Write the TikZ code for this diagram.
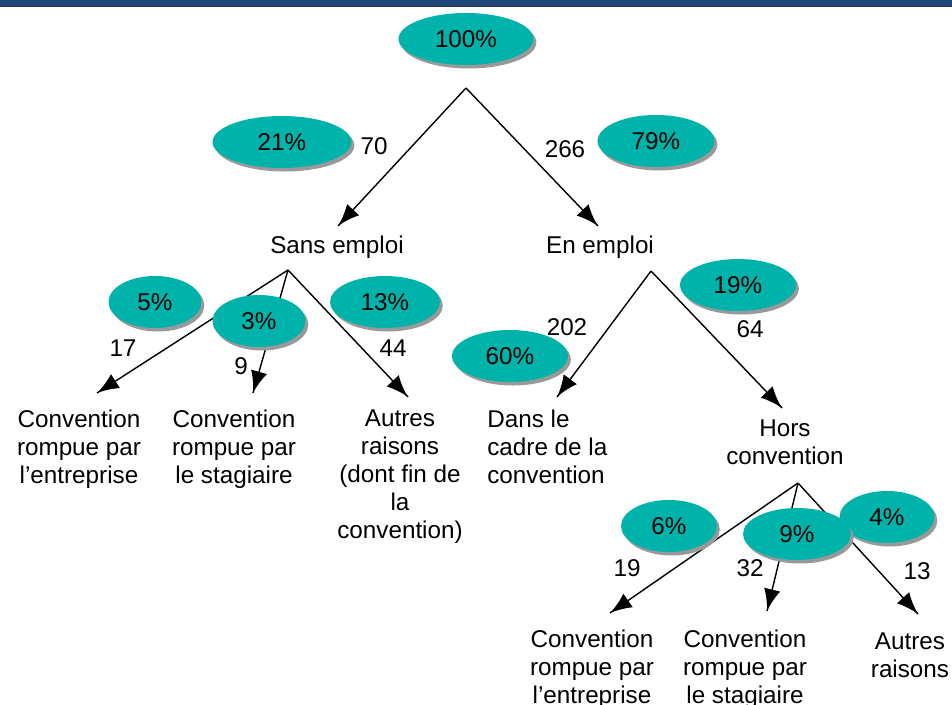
\documentclass[tikz,border=0pt]{standalone}
\usepackage{fontspec}
\setmainfont{Liberation Sans}
\usetikzlibrary{shapes.geometric,shadows,decorations.markings}
\definecolor{turquoise}{RGB}{0,179,170}
\definecolor{bandeau}{RGB}{31,70,120}
\tikzstyle{pct}=[ellipse, fill=turquoise, inner sep=0pt, minimum height=1.04cm,
  drop shadow={shadow xshift=1.6pt, shadow yshift=-2pt, fill=black!40, opacity=1}]
\providecommand{\pct}{\node[pct]}
\tikzstyle{etiq}=[align=center, inner sep=0pt]
\tikzstyle{nb}=[inner sep=0pt]
\providecommand{\nb}{\node[nb]}

\begin{document}
\begin{tikzpicture}[x=0.02cm, y=-0.02cm,
    font=\fontsize{13.8}{15.9}\selectfont,
    every edge/.style={
        draw, line width=0.8pt,
        postaction={decorate,
                    decoration={markings,mark=at position 1 with {\arrow[scale=2.4]{latex}}}
                   }
        }
]
\useasboundingbox (0,0) rectangle (952,705);
\fill[bandeau] (0,0) rectangle (952,6);
\draw[line width=1pt, black!80] (0,6.5) -- (952,6.5);

% points de depart et pointes des fleches
\coordinate (a0) at (466,88);
\coordinate (aSans) at (288,270);
\coordinate (aEn) at (651,271);
\coordinate (aHors) at (798,483);
\coordinate (tSans) at (338,226);
\coordinate (tEn) at (598,226);
\coordinate (tEnt1) at (97,393);
\coordinate (tSta1) at (253,393);
\coordinate (tAut1) at (408,397);
\coordinate (tCadre) at (557,397);
\coordinate (tHors) at (782,408);
\coordinate (tEnt2) at (610,613);
\coordinate (tSta2) at (767,611);
\coordinate (tAut2) at (918,614);

\path
(a0) edge (tSans)
(a0) edge (tEn)
(aSans) edge (tEnt1)
(aSans) edge (tSta1)
(aSans) edge (tAut1)
(aEn) edge (tCadre)
(aEn) edge (tHors)
(aHors) edge (tEnt2)
(aHors) edge (tSta2)
(aHors) edge (tAut2)
;

% pourcentages
\pct (p100) at (466,39) [minimum width=2.7cm] {100\%};
\pct (p21) at (282,142) [minimum width=2.78cm] {21\%};
\pct (p79) at (656,141) [minimum width=2.34cm] {79\%};
\pct (p5) at (155,302) [minimum width=1.86cm] {5\%};
\pct (p3) at (259,321) [minimum width=1.86cm] {3\%};
\pct (p13) at (385,302) [minimum width=2.2cm] {13\%};
\pct (p19) at (738,285) [minimum width=2.32cm] {19\%};
\pct (p60) at (510,356) [minimum width=2.32cm] {60\%};
\pct (p6) at (669,526) [minimum width=1.92cm] {6\%};
\pct (p4) at (887,517) [minimum width=1.9cm] {4\%};
\pct (p9) at (797,534) [minimum width=2.16cm] {9\%};

% effectifs
\nb (n70) at (374,146) {70};
\nb (n266) at (565,149) {266};
\nb (n17) at (123,348) {17};
\nb (n9) at (241,366) {9};
\nb (n44) at (393,348) {44};
\nb (n202) at (567,327) {202};
\nb (n64) at (750,329) {64};
\nb (n19) at (627,568) {19};
\nb (n32) at (750,568) {32};
\nb (n13) at (917,571) {13};

% situations
\node[etiq] (sans) at (337,247) {Sans emploi};
\node[etiq] (en) at (600,247) {En emploi};
\node[etiq] (ent1) at (79,449) {Convention\\rompue par\\l’entreprise};
\node[etiq] (sta1) at (234,449) {Convention\\rompue par\\le stagiaire};
\node[etiq] (aut1) at (400,477) {Autres\\raisons\\(dont fin de\\la\\convention)};
\node[etiq, align=left, anchor=west] (cadre) at (487,447) {Dans le\\cadre de la\\convention};
\node[etiq] (hors) at (785,442) {Hors\\convention};
\node[etiq] (ent2) at (592,669) {Convention\\rompue par\\l’entreprise};
\node[etiq] (sta2) at (745,669) {Convention\\rompue par\\le stagiaire};
\node[etiq] (aut2) at (910,655) {Autres\\raisons};
\end{tikzpicture}
\end{document}
